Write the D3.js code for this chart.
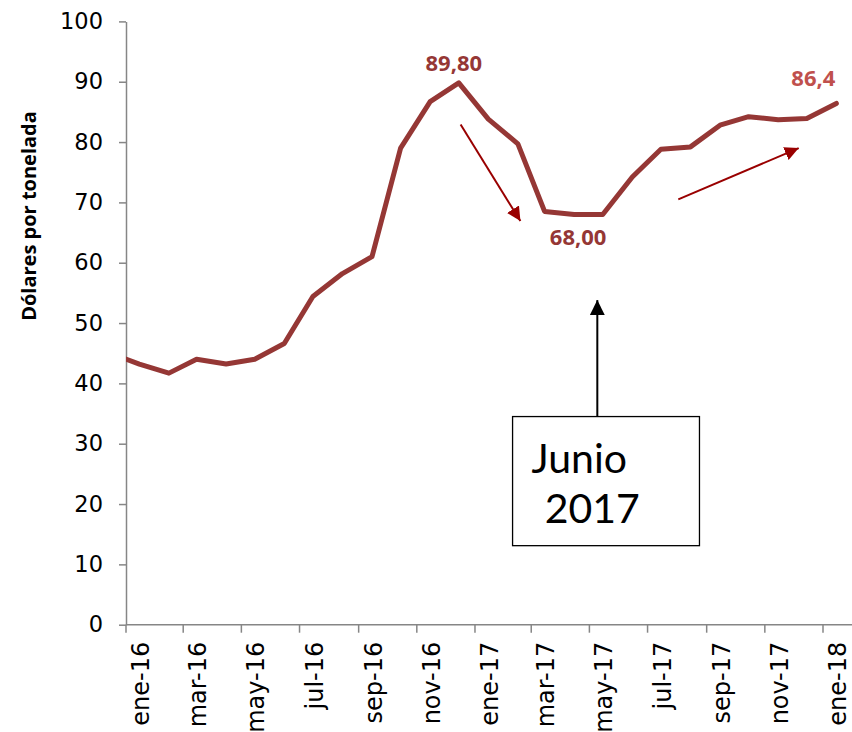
<!DOCTYPE html>
<html><head><meta charset="utf-8">
<script src="https://cdn.jsdelivr.net/npm/d3@7"></script>
<style>body{margin:0;background:#fff}svg{display:block}</style>
</head><body>
<script>
// ---- data ----
const months = ["2015-12","2016-01","2016-02","2016-03","2016-04","2016-05","2016-06","2016-07","2016-08","2016-09","2016-10","2016-11","2016-12",
  "2017-01","2017-02","2017-03","2017-04","2017-05","2017-06","2017-07","2017-08","2017-09","2017-10","2017-11","2017-12","2018-01"];
const values = [45.0,43.2,41.7,44.0,43.2,44.0,46.6,54.4,58.2,61.0,79.0,86.7,89.8,
  83.8,79.7,68.5,68.0,68.0,74.2,78.8,79.2,82.8,84.2,83.7,83.9,86.4];
const monthNames = ["ene","feb","mar","abr","may","jun","jul","ago","sep","oct","nov","dic"];
const yTicks = [0,10,20,30,40,50,60,70,80,90,100];
const labels = [{month:"2016-12", text:"89,80"},{month:"2017-04", text:"68,00"},{month:"2018-01", text:"86,4"}];

const W = 852, H = 732;
const svg = d3.select("body").append("svg").attr("width", W).attr("height", H);

const parse = s => { const [y,m] = s.split("-").map(Number); return new Date(Date.UTC(y, m-1, 15)); };
const data = months.map((m,i) => ({date: parse(m), value: values[i], key: m}));

const x = d3.scaleUtc().domain([new Date(Date.UTC(2016,0,1)), new Date(Date.UTC(2018,0,1))]).range([126, 823]);
const y = d3.scaleLinear().domain([0,100]).range([624.7, 21.4]);
const plotRight = 852;
const xm = i => x(new Date(Date.UTC(2016,0,1) + i*30.4375*864e5)); // month offset helper for annotations

// clip
const defs = svg.append("defs");
defs.append("clipPath").attr("id","clip")
  .append("rect").attr("x",126).attr("y",0).attr("width",plotRight-126).attr("height",H);

const axisColor = "#868686";
const tickFont = "DejaVu Sans, Verdana, sans-serif";
// y axis
const gy = svg.append("g").attr("transform","translate(126,0)")
  .call(d3.axisLeft(y).tickValues(yTicks).tickSize(7).tickSizeOuter(0).tickPadding(16));
gy.select(".domain").attr("stroke", axisColor).attr("stroke-width",1.5);
gy.selectAll(".tick line").attr("stroke", axisColor).attr("stroke-width",1.5);
gy.selectAll(".tick text").attr("font-family",tickFont).attr("font-size",22.5).attr("fill","#000");

// x axis
const gx = svg.append("g").attr("transform",`translate(0,${y(0)})`);
gx.append("line").attr("x1",126).attr("x2",plotRight).attr("stroke",axisColor).attr("stroke-width",1.5);
const ticks = x.ticks(d3.utcMonth.every(2));
const fmt = d => monthNames[d.getUTCMonth()] + "-" + String(d.getUTCFullYear()).slice(2);
gx.selectAll("line.t").data(ticks).join("line").attr("class","t")
  .attr("x1",d=>x(d)).attr("x2",d=>x(d)).attr("y1",0).attr("y2",8)
  .attr("stroke",axisColor).attr("stroke-width",1.5);
gx.selectAll("text").data(ticks).join("text")
  .attr("transform",d=>`translate(${x(d)},17) rotate(-90)`)
  .attr("text-anchor","end").attr("dy",23)
  .attr("font-family",tickFont).attr("font-size",24).attr("fill","#000")
  .text(fmt);

// y title
svg.append("text").attr("transform","translate(36,216) rotate(-90)")
  .attr("text-anchor","middle").attr("font-family","Open Sans, sans-serif").attr("font-weight","bold")
  .attr("font-size",20).attr("fill","#000").text("Dólares por tonelada");

// line
svg.append("path").datum(data).attr("clip-path","url(#clip)")
  .attr("fill","none").attr("stroke","#953735").attr("stroke-width",5).attr("stroke-linejoin","round").attr("stroke-linecap","round")
  .attr("d", d3.line().x(d=>x(d.date)).y(d=>y(d.value)));

// data labels
const lab = labels.map(l => ({...l, d: data.find(e=>e.key===l.month)}));
const offs = [[-5,-12],[4,30.5],[-23,-17]];
svg.append("g").selectAll("text").data(lab).join("text")
  .attr("x", (l,i) => x(l.d.date) + offs[i][0])
  .attr("y", (l,i) => y(l.d.value) + offs[i][1])
  .attr("text-anchor","middle").attr("font-family","Open Sans, sans-serif").attr("font-weight","bold")
  .attr("font-size",22).attr("fill",(l,i)=> i===2 ? "#c0504d" : "#953735").text(l=>l.text);

// arrows
defs.append("marker").attr("id","redhead").attr("viewBox","0 0 10 10").attr("refX",10).attr("refY",5)
  .attr("markerWidth",7).attr("markerHeight",7).attr("markerUnits","strokeWidth").attr("orient","auto")
  .append("path").attr("d","M0,0 L10,5 L0,10 z").attr("fill","#990000");
defs.append("marker").attr("id","blackhead").attr("viewBox","0 0 10 10").attr("refX",10).attr("refY",5)
  .attr("markerWidth",7.5).attr("markerHeight",7.5).attr("markerUnits","strokeWidth").attr("orient","auto")
  .append("path").attr("d","M0,0 L10,5 L0,10 z").attr("fill","#000");

const redArrows = [{x1:11.53,v1:82.9,x2:13.59,v2:66.9},{x1:19.03,v1:70.5,x2:23.18,v2:79.0}];
svg.append("g").selectAll("line").data(redArrows).join("line")
  .attr("x1",a=>xm(a.x1)).attr("y1",a=>y(a.v1)).attr("x2",a=>xm(a.x2)).attr("y2",a=>y(a.v2))
  .attr("stroke","#990000").attr("stroke-width",2).attr("marker-end","url(#redhead)");

// Junio 2017 box + arrow
const bx1 = xm(13.32), bx2 = xm(19.76), by1 = y(34.5), by2 = y(13.1);
svg.append("rect").attr("x",bx1).attr("y",by1).attr("width",bx2-bx1).attr("height",by2-by1)
  .attr("fill","#fff").attr("stroke","#000").attr("stroke-width",1.3);
svg.append("line").attr("x1",xm(16.24)).attr("x2",xm(16.24)).attr("y1",by1).attr("y2",y(53.8))
  .attr("stroke","#000").attr("stroke-width",2).attr("marker-end","url(#blackhead)");
svg.append("text").attr("x",xm(13.97)).attr("y",y(25.2)).attr("font-family","Lato, sans-serif")
  .attr("font-size",41).attr("fill","#000").text("Junio");
svg.append("text").attr("x",xm(14.43)).attr("y",y(16.8)).attr("font-family","Lato, sans-serif")
  .attr("font-size",41).attr("fill","#000").text("2017");
</script>
</body></html>
